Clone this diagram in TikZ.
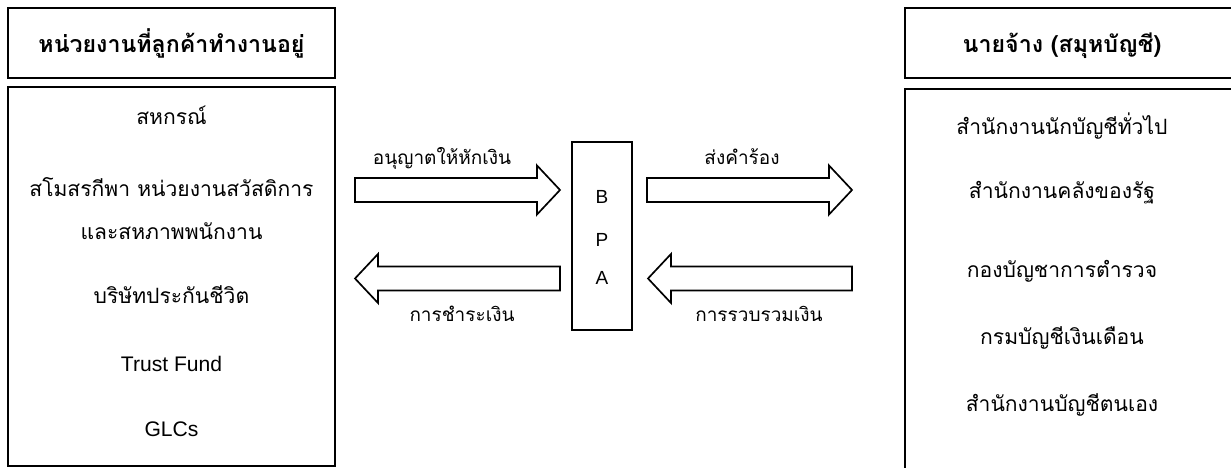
\documentclass[tikz,border=0pt]{standalone}
\usepackage{fontspec}
\setmainfont{Liberation Sans}
\newfontfamily\thaifont[Script=Thai]{Loma}
\usetikzlibrary{calc}
\def\fatarrow[#1](#2:#3:#4){\draw[#1] (#2,{#4+0.3}) -- ({#3-0.575*sign(#3-#2)},{#4+0.3}) -- ({#3-0.575*sign(#3-#2)},{#4+0.6125}) -- (#3,#4) -- ({#3-0.575*sign(#3-#2)},{#4-0.6125}) -- ({#3-0.575*sign(#3-#2)},{#4-0.3}) -- (#2,{#4-0.3}) -- cycle;}
\tikzset{
	txt/.style={anchor=base, inner sep=0pt, font=\fontsize{15}{18}\selectfont\thaifont},
	lat/.style={anchor=base, inner sep=0pt, font=\fontsize{15}{18}\selectfont},
	lbl/.style={anchor=base, inner sep=0pt, font=\fontsize{13.5}{16}\selectfont\thaifont},
	letter/.style={anchor=base, inner sep=0pt, font=\fontsize{13.5}{16}\selectfont},
	head/.style={anchor=base, inner sep=0pt, font=\fontsize{16.5}{20}\selectfont\thaifont\bfseries},
	box/.style={line width=1.8pt},
	thin/.style={line width=1.2pt}
}

\begin{document}
\begin{tikzpicture}
		%%%%% START %%%%%
		\useasboundingbox (0, 0) rectangle (30.775, 11.7);
		\clip (0, 0) rectangle (30.775, 11.7);
		
		\draw[box] (0.2, 11.5) rectangle (8.375, 9.75);
		\draw[box] (0.2, 9.525) rectangle (8.375, 0.05);
		
		\draw[box] (22.625, 11.5) rectangle (31.5, 9.75);
		\draw[box] (22.625, 9.475) rectangle (31.5, -0.5);
		
		\draw[thin] (14.3, 8.15) rectangle (15.8, 3.45);
		
		\fatarrow[thin](8.875:14.0:6.95)
		\fatarrow[thin](16.175:21.3:6.95)
		\fatarrow[thin](14.0:8.875:4.7375)
		\fatarrow[thin](21.3:16.2:4.7375)
		
		\node[head] (hleft) at (4.2875, 10.375) {หน่วยงานที่ลูกค้าทำงานอยู่};
		\node[head] (hright) at (26.55, 10.375) {นายจ้าง (สมุหบัญชี)};
		
		\node[txt] (coop) at (4.2875, 8.575) {สหกรณ์};
		\node[txt] (club) at (4.2875, 6.775) {สโมสรกีพา หน่วยงานสวัสดิการ};
		\node[txt] (union) at (4.2875, 5.7) {และสหภาพพนักงาน};
		\node[txt] (insur) at (4.2875, 4.1) {บริษัทประกันชีวิต};
		\node[lat] (trust) at (4.2875, 2.4) {Trust Fund};
		\node[lat] (glc) at (4.2875, 0.775) {GLCs};
		
		\node[txt] (acct) at (26.55, 8.325) {สำนักงานนักบัญชีทั่วไป};
		\node[txt] (treas) at (26.55, 6.725) {สำนักงานคลังของรัฐ};
		\node[txt] (police) at (26.55, 4.75) {กองบัญชาการตำรวจ};
		\node[txt] (salary) at (26.55, 3.075) {กรมบัญชีเงินเดือน};
		\node[txt] (selfacct) at (26.55, 1.4) {สำนักงานบัญชีตนเอง};
		
		\node[lbl] (allow) at (11.05, 7.575) {อนุญาตให้หักเงิน};
		\node[lbl] (claim) at (18.55, 7.575) {ส่งคำร้อง};
		\node[lbl] (pay) at (11.55, 3.65) {การชำระเงิน};
		\node[lbl] (collect) at (18.975, 3.65) {การรวบรวมเงิน};
		
		\foreach \l/\y in {B/6.6, P/5.525, A/4.575}
			\node[letter] (bpa\l) at (15.05, \y) {\l};
		%%%%% END %%%%%
	\end{tikzpicture}
\end{document}
